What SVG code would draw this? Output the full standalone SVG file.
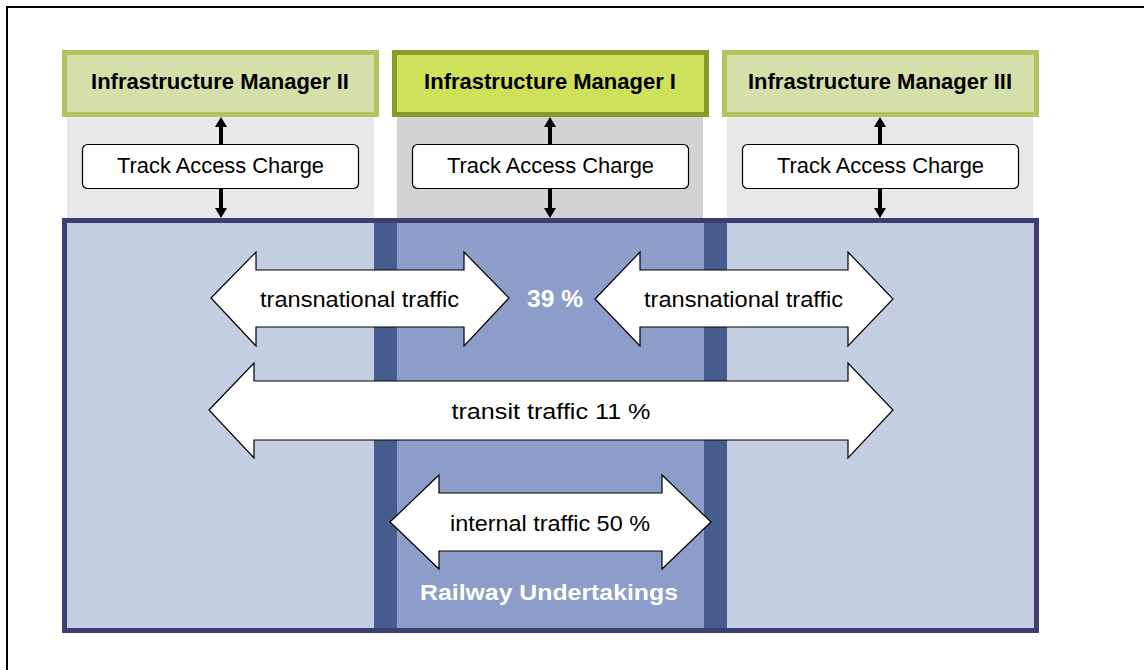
<svg xmlns="http://www.w3.org/2000/svg" width="1144" height="670" viewBox="0 0 1144 670">
<style>
text{font-family:"Liberation Sans",Arial,sans-serif;text-anchor:middle}
.im{font-size:22px;font-weight:bold;fill:#000}
.lbl{font-size:22px;fill:#000}
.wht{font-weight:bold;fill:#fff}
.tac{fill:#fff;stroke:#000;stroke-width:1.2}
.big{fill:#fff;stroke:#000;stroke-width:1.2;stroke-linejoin:miter}
.lnk{stroke:#000;stroke-width:4;fill:none}
</style>
<defs>
<marker id="ah" viewBox="0 0 10 12" markerUnits="userSpaceOnUse" markerWidth="10" markerHeight="12" refX="0" refY="6" orient="auto">
<path d="M0,0 L10,6 L0,12 z" fill="#000"/>
</marker>
</defs>
<rect width="1144" height="670" fill="#fff"/>
<path d="M7,670 L7,7 L1144,7" fill="none" stroke="#000" stroke-width="2"/>

<g id="columns">
<rect x="67" y="116" width="307" height="106" fill="#e8e8e8"/>
<rect x="397" y="116" width="306" height="106" fill="#d3d3d3"/>
<rect x="727" y="116" width="306" height="106" fill="#e8e8e8"/>
</g>

<g id="railway-undertakings">
<rect x="64.5" y="220.5" width="972" height="410" fill="#c3cee3" stroke="#3c3e6f" stroke-width="5"/>
<rect x="374" y="223" width="23" height="405" fill="#465c8e"/>
<rect x="397" y="223" width="307" height="405" fill="#8b9dc8"/>
<rect x="704" y="223" width="23" height="405" fill="#465c8e"/>
<text class="wht" x="549" y="600" font-size="22" textLength="258" lengthAdjust="spacingAndGlyphs">Railway Undertakings</text>
</g>

<g id="im2">
<rect x="64.5" y="52.5" width="312" height="62" fill="#d5dfa9" stroke="#b4c35e" stroke-width="5"/>
<text class="im" x="220" y="89">Infrastructure Manager II</text>
</g>
<g id="im1">
<rect x="394.5" y="52.5" width="312" height="62" fill="#cfe05b" stroke="#8b9a26" stroke-width="5"/>
<text class="im" x="550" y="89">Infrastructure Manager I</text>
</g>
<g id="im3">
<rect x="724.5" y="52.5" width="312" height="62" fill="#d5dfa9" stroke="#b4c35e" stroke-width="5"/>
<text class="im" x="880" y="89">Infrastructure Manager III</text>
</g>

<g id="tac2">
<rect class="tac" x="82.5" y="144.5" width="276" height="44" rx="5"/>
<text class="lbl" x="220.5" y="173" textLength="207" lengthAdjust="spacingAndGlyphs">Track Access Charge</text>
</g>
<g id="tac1">
<rect class="tac" x="412.5" y="144.5" width="276" height="44" rx="5"/>
<text class="lbl" x="550.5" y="173" textLength="207" lengthAdjust="spacingAndGlyphs">Track Access Charge</text>
</g>
<g id="tac3">
<rect class="tac" x="742.5" y="144.5" width="276" height="44" rx="5"/>
<text class="lbl" x="880.5" y="173" textLength="207" lengthAdjust="spacingAndGlyphs">Track Access Charge</text>
</g>

<g id="connectors">
<line class="lnk" x1="221" y1="144" x2="221" y2="127" marker-end="url(#ah)"/>
<line class="lnk" x1="221" y1="189" x2="221" y2="208" marker-end="url(#ah)"/>
<line class="lnk" x1="550" y1="144" x2="550" y2="127" marker-end="url(#ah)"/>
<line class="lnk" x1="550" y1="189" x2="550" y2="208" marker-end="url(#ah)"/>
<line class="lnk" x1="880" y1="144" x2="880" y2="127" marker-end="url(#ah)"/>
<line class="lnk" x1="880" y1="189" x2="880" y2="208" marker-end="url(#ah)"/>
</g>

<g id="transnational-left">
<path class="big" d="M211,298 L256,252 L256,270 L464,270 L464,252 L509,298 L464,346 L464,327 L256,327 L256,346 Z"/>
<text class="lbl" x="359.5" y="307" textLength="199" lengthAdjust="spacingAndGlyphs">transnational traffic</text>
</g>
<g id="transnational-right">
<path class="big" d="M595,299 L640,252 L640,270 L848,270 L848,252 L893,299 L848,346 L848,327 L640,327 L640,346 Z"/>
<text class="lbl" x="743.5" y="307" textLength="199" lengthAdjust="spacingAndGlyphs">transnational traffic</text>
</g>
<g id="share39">
<text class="wht" x="555" y="307" font-size="24" textLength="56" lengthAdjust="spacingAndGlyphs">39 %</text>
</g>
<g id="transit">
<path class="big" d="M209,410 L254,363 L254,381 L848,381 L848,363 L893,410 L848,458 L848,440 L254,440 L254,458 Z"/>
<text class="lbl" x="551" y="419" textLength="199" lengthAdjust="spacingAndGlyphs">transit traffic 11 %</text>
</g>
<g id="internal">
<path class="big" d="M390,522 L439,475 L439,493 L662,493 L662,475 L711,522 L662,569 L662,551 L439,551 L439,569 Z"/>
<text class="lbl" x="550" y="531" textLength="200" lengthAdjust="spacingAndGlyphs">internal traffic 50 %</text>
</g>
</svg>
